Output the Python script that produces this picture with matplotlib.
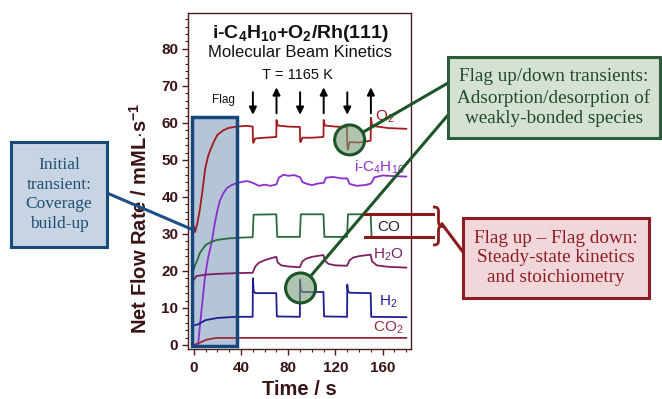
import matplotlib.pyplot as plt
import numpy as np
from matplotlib.patches import Rectangle, Ellipse, PathPatch
from matplotlib.path import Path
from matplotlib.transforms import Affine2D

plt.rcParams['font.family'] = 'Liberation Sans'
plt.rcParams['mathtext.fontset'] = 'custom'
plt.rcParams['mathtext.rm'] = 'Liberation Sans'
plt.rcParams['mathtext.bf'] = 'Liberation Sans:bold'
plt.rcParams['mathtext.default'] = 'rm'

W, H = 662, 399

# --- traces (time in s, net flow rate in mML/s) ---
t_o2 = [0, 1, 3, 5, 7, 9.5, 12, 14, 17, 20, 25, 29, 36, 45, 49.8,
        50, 50.4, 52, 60, 69.8, 70, 71, 80, 89.8,
        90, 90.4, 92, 100, 109.8, 110, 111, 120, 129.8,
        130, 130.5, 132, 140, 149.8, 150, 151, 165, 180]
o2 = [32, 30.5, 33, 36.5, 41, 47.5, 51, 52.7, 55, 56.8, 58, 58.6, 59, 59.2, 59,
      55.5, 54.6, 55.8, 56, 56.2, 60.8, 59.3, 59, 58.9,
      55.3, 54.8, 56, 56, 56.2, 60.8, 59.3, 59, 58.8,
      54, 52.8, 54.8, 54.7, 55.2, 61.4, 59.2, 58.6, 58.4]

t_c4 = [3.5, 6, 9.4, 12, 15, 17.5, 20, 22, 25, 28, 32, 36, 40, 45, 50, 55, 60, 65, 70,
        72, 76, 80, 85, 90, 92, 96, 100, 105, 110, 112, 118, 125, 130, 132, 138, 145,
        150, 153, 160, 170, 180]
c4 = [0, 8, 18.4, 23.5, 27.6, 32.5, 36.5, 39, 41, 42.4, 43.2, 43.7, 44, 44.3, 43.8, 43, 43.3, 43, 43.4,
      45.2, 46, 45.7, 45.9, 45.3, 44, 43.5, 43.2, 43.6, 43.8, 45.2, 45.4, 45, 45, 43.5, 43, 43.2,
      43.6, 45.3, 45.8, 45.6, 45.5]

t_co = [0, 1, 3, 5, 7.5, 10, 15, 20, 30, 40, 49.8, 50.6, 69.8, 70.6, 89.8, 90.6, 109.8, 110.6,
        129.8, 130.6, 149.8, 150.6, 180]
co = [20.5, 21.6, 23, 24.8, 26, 27, 27.9, 28.4, 28.8, 29, 29.1, 35.2, 35.3, 29.2, 29.2, 35.3, 35.3, 29.2,
      29.2, 35.3, 35.3, 29.1, 29]

t_h2o = [0, 2, 10, 20, 36, 49.8, 52, 55, 60, 65, 69.8, 71, 74, 80, 89.8, 92, 95, 100, 109.8,
         111, 114, 120, 129.8, 132, 135, 140, 149.8, 151, 155, 165, 180]
h2o = [17.6, 18.6, 19, 19.2, 19.4, 19.5, 21.2, 22.2, 22.9, 23.4, 23.8, 22.3, 21.5, 21.2, 21, 22.6, 23.3, 23.8, 24.3,
       22.8, 21.9, 21.5, 21.4, 22.9, 23.6, 24, 24.4, 22.6, 21.5, 21.1, 20.9]

t_h2 = [0, 3, 10, 20, 36, 49.8, 50, 50.6, 52, 69.8, 70.3, 89.8, 90, 90.6, 92, 109.8, 110.3,
        129.8, 130, 130.6, 132, 149.8, 150.3, 180]
h2 = [5.3, 5.5, 6.7, 7.3, 7.6, 7.6, 18, 14.6, 14, 14, 7.7, 7.6, 17.6, 14.7, 14.3, 14.3, 7.7,
      7.6, 16.3, 14.5, 14.1, 14, 7.6, 7.5]

t_co2 = [0, 5, 10, 15, 20, 40, 180]
co2 = [0, 0.6, 1.35, 1.7, 1.9, 1.9, 1.9]

flag_times = [50, 70, 90, 110, 130, 150]
flag_dirs = ['down', 'up', 'down', 'up', 'down', 'up']

c_o2, c_c4, c_co, c_h2o, c_h2, c_co2 = '#a3191c', '#8a2fcc', '#2b6a3c', '#7c1f62', '#1c1f90', '#9b2b3c'
dark = '#3a1414'

fig = plt.figure(figsize=(W / 100, H / 100), dpi=100)
ax = fig.add_axes([188 / W, 1 - 349 / H, (411 - 188) / W, (349 - 13) / H])
ax.set_xlim(-5, 184)
ax.set_ylim(-1.1, 89.7)

# pixel coordinates (origin top-left) for the call-out graphics
px = Affine2D().scale(1 / W, -1 / H).translate(0, 1) + fig.transFigure

# shaded initial-transient window
ax.add_patch(Rectangle((-2, -0.3), 38.2, 61.9, facecolor='#b5c5d8', edgecolor='none', zorder=0.5))
ax.add_patch(Rectangle((-2, -0.3), 38.2, 61.9, facecolor='none', edgecolor='#17467e', lw=2.5, zorder=4))

lw = 1.3
ax.plot(t_o2, o2, color=c_o2, lw=lw, zorder=2)
ax.plot(t_c4, c4, color=c_c4, lw=lw, zorder=2)
ax.plot(t_co, co, color=c_co, lw=lw, zorder=2)
ax.plot(t_h2o, h2o, color=c_h2o, lw=lw, zorder=2)
ax.plot(t_h2, h2, color=c_h2, lw=lw, zorder=2)
ax.plot(t_co2, co2, color=c_co2, lw=lw, zorder=2)

ax.text(162, 61.6, 'O$_2$', color=c_o2, fontsize=11, ha='center', va='center')
ax.text(157, 48, 'i-C$_4$H$_{10}$', color=c_c4, fontsize=11, ha='center', va='center')
ax.text(165, 32, 'CO', color='#222222', fontsize=11, ha='center', va='center')
ax.text(165, 24.3, 'H$_2$O', color=c_h2o, fontsize=11, ha='center', va='center')
ax.text(165, 11.6, 'H$_2$', color=c_h2, fontsize=11, ha='center', va='center')
ax.text(165, 4.6, 'CO$_2$', color=c_co2, fontsize=11, ha='center', va='center')

# titles inside the frame
ax.text(90, 84.2, r'i-C$_\mathbf{4}$H$_\mathbf{10}$+O$_\mathbf{2}$/Rh(111)', fontsize=14,
        fontweight='bold', ha='center', va='center', color='#111111')
ax.text(90, 79.0, 'Molecular Beam Kinetics', fontsize=12, ha='center', va='center', color='#111111')
ax.text(88, 73, 'T = 1165 K', fontsize=10.5, ha='center', va='center', color='#111111')
ax.text(25, 66.2, 'Flag', fontsize=8.5, ha='center', va='center', color='#111111')

for tf, d in zip(flag_times, flag_dirs):
    y0, y1 = (68.3, 62.2) if d == 'down' else (62.6, 69.6)
    ax.annotate('', xy=(tf, y1), xytext=(tf, y0),
                arrowprops=dict(arrowstyle='-|>', color='black', lw=1.4, mutation_scale=11,
                                shrinkA=0, shrinkB=0))

# axes styling
for s in ax.spines.values():
    s.set_color('#4a1c1c')
    s.set_linewidth(1.0)
ax.set_xticks([0, 40, 80, 120, 160])
ax.set_yticks(np.arange(0, 81, 10))
ax.set_xticks(np.arange(0, 181, 10), minor=True)
ax.set_yticks(np.arange(0, 89, 2), minor=True)
ax.tick_params(which='both', direction='out', colors='#4a1c1c', labelcolor=dark)
ax.tick_params(which='major', length=4.5, width=1, labelsize=11)
ax.tick_params(which='minor', length=2.3, width=0.8)
ax.tick_params(axis='x', pad=4)
ax.tick_params(axis='y', pad=2.5)
for lab in ax.get_xticklabels() + ax.get_yticklabels():
    lab.set_fontweight('bold')
ax.set_xlabel('Time / s', fontsize=14.5, fontweight='bold', color=dark, labelpad=4)
ax.set_ylabel(r'Net Flow Rate / mML$\cdot$s$^\mathbf{-1}$', fontsize=14.5, fontweight='bold',
              color=dark)
ax.yaxis.set_label_coords(-0.165, 0.39)

# highlight circles
circ_kw = dict(facecolor=(0.48, 0.62, 0.47, 0.6), edgecolor='#1c5528', lw=2.2, zorder=5)
ax.add_patch(Ellipse((132, 55.4), 25.4, 8.1, **circ_kw))
ax.add_patch(Ellipse((90.4, 15.4), 25.4, 8.1, **circ_kw))

line_kw = dict(arrowstyle='-', lw=2.2, shrinkA=0)
ax.annotate('', xy=(132, 55.4), xytext=(448 / W, 1 - 83 / H), textcoords='figure fraction',
            arrowprops=dict(color='#1c5528', shrinkB=10.8, **line_kw), annotation_clip=False, zorder=6)
ax.annotate('', xy=(90.4, 15.4), xytext=(448 / W, 1 - 115 / H), textcoords='figure fraction',
            arrowprops=dict(color='#1c5528', shrinkB=10.8, **line_kw), annotation_clip=False, zorder=6)

# initial transient callout line
ax.annotate('', xy=(0, 31), xytext=(107 / W, 1 - 193 / H), textcoords='figure fraction',
            arrowprops=dict(color='#1c4f86', shrinkB=0, **line_kw), annotation_clip=False, zorder=6)

# flag up / flag down levels with brace
for lev in (35.3, 29.1):
    ax.plot([145, 202.5], [lev, lev], color='#8b1a1a', lw=2.2, clip_on=False, zorder=6)
x0, xm, xt, yt, yc, yb = 433, 438.5, 444, 207, 226, 245
verts = [(x0, yt), (xm - 1, yt), (xm, yt + 1), (xm, yt + 5), (xm, yc - 5),
         (xm, yc - 1), (xm + 1, yc), (xt, yc),
         (xm + 1, yc), (xm, yc + 1), (xm, yc + 5), (xm, yb - 5),
         (xm, yb - 1), (xm - 1, yb), (x0, yb)]
codes = [Path.MOVETO] + [Path.CURVE4] * 3 + [Path.LINETO] + [Path.CURVE4] * 6 + [Path.LINETO] + [Path.CURVE4] * 3
fig.add_artist(PathPatch(Path(verts, codes), transform=px, facecolor='none', edgecolor='#8b1a1a', lw=2))
fig.add_artist(plt.Line2D([442, 463], [224, 252], transform=px, color='#8b1a1a', lw=2.2))

# text boxes
boxes = [
    ((11, 142, 96, 105), '#c6d4e4', '#1a4a7a', '#1f4f6f', 'Initial\ntransient:\nCoverage\nbuild-up', 12.5, 1.3),
    ((448, 57, 212, 81), '#d5e1d3', '#2d5d3b', '#1f4a2c',
     'Flag up/down transients:\nAdsorption/desorption of\nweakly-bonded species', 13.8, 1.25),
    ((463, 218, 186, 80), '#f2d7da', '#8e1b25', '#8e1b25',
     'Flag up \u2013 Flag down:\nSteady-state kinetics\nand stoichiometry', 13.8, 1.2),
]
for (bx, by, bw, bh), fc, ec, tc, txt, fs, ls in boxes:
    fig.add_artist(Rectangle((bx, by), bw, bh, transform=px, facecolor=fc, edgecolor=ec, lw=2.2))
    fig.text((bx + bw / 2) / W, 1 - (by + bh / 2) / H, txt, ha='center', va='center', color=tc,
             fontsize=fs, family='Liberation Serif', linespacing=ls)

fig.savefig('out.png', dpi=100)
